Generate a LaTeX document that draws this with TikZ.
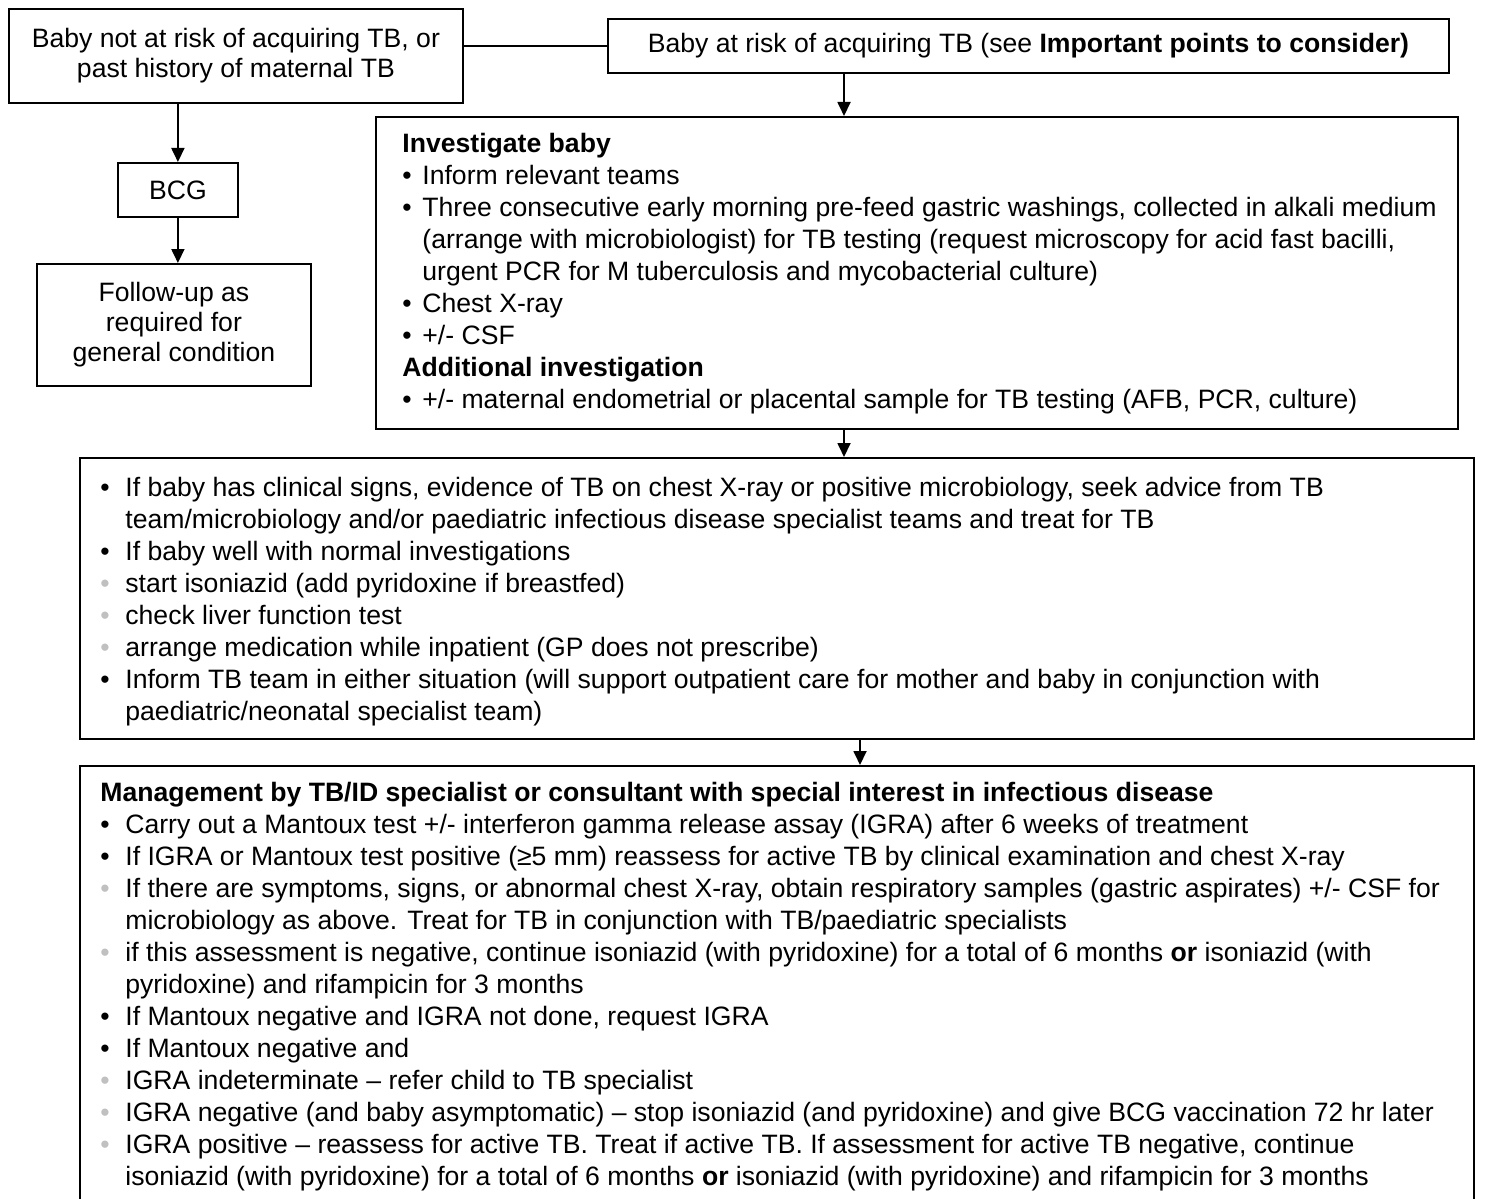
\documentclass[tikz,border=0pt]{standalone}
\usepackage{fontspec}
\setmainfont{Liberation Sans}
\usetikzlibrary{arrows.meta}
\definecolor{bgrey}{HTML}{C0C0C0}
\newlength{\bw}
\newcommand{\bb}{\makebox[\bw][l]{•}}
\newcommand{\gb}{\makebox[\bw][l]{\textcolor{bgrey}{•}}}
\newcommand{\ct}{\makebox[\bw][l]{}}
\tikzset{
  box/.style={draw, line width=0.9pt, rectangle, inner sep=0pt, anchor=north west},
  txt/.style={anchor=north west, inner sep=0pt, align=left},
  arr/.style={-{Triangle[length=7pt,width=6.5pt]}, line width=0.9pt},
  link/.style={line width=0.9pt},
  smallf/.style={font=\fontsize{13.3}{15}\selectfont},
  bodyf/.style={font={\setlength{\bw}{10pt}\fontsize{13.3}{16}\selectfont}},
  bodyg/.style={font={\setlength{\bw}{12.5pt}\fontsize{13.3}{16}\selectfont}}
}
\begin{document}
\begin{tikzpicture}[x=0.5pt,y=-0.5pt]
\useasboundingbox (0,0) rectangle (1491,1198);
% top boxes
\node[box, smallf, align=center, minimum width=227pt, minimum height=47pt] (A) at (8,8)
  {Baby not at risk of acquiring TB, or\\past history of maternal TB};
\node[box, smallf, align=center, minimum width=420.5pt, minimum height=27pt] (B) at (607,18)
  {Baby at risk of acquiring TB (see \textbf{Important points to consider)}};
\node[box, smallf, align=center, minimum width=60pt, minimum height=27pt] (BCG) at (117,162) {BCG};
\node[box, smallf, align=center, minimum width=137pt, minimum height=61pt] (FU) at (36,263)
  {Follow-up as\\required for\\general condition};
% investigate box
\node[box, minimum width=541pt, minimum height=156pt] (C) at (375,116) {};
\node[txt, bodyf] (Ct) at (402,129.6) {\strut\textbf{Investigate baby}\\
\bb Inform relevant teams\\
\bb Three consecutive early morning pre-feed gastric washings, collected in alkali medium\\
\ct (arrange with microbiologist) for TB testing (request microscopy for acid fast bacilli,\\
\ct urgent PCR for M tuberculosis and mycobacterial culture)\\
\bb Chest X-ray\\
\bb +/- CSF\\
\textbf{Additional investigation}\\
\bb +/- maternal endometrial or placental sample for TB testing (AFB, PCR, culture)};
% box D
\node[box, minimum width=697pt, minimum height=140.5pt] (D) at (79,457) {};
\node[txt, bodyg] (Dt) at (100,473.6) {\strut\bb If baby has clinical signs, evidence of TB on chest X-ray or positive microbiology, seek advice from TB\\
\ct team/microbiology and/or paediatric infectious disease specialist teams and treat for TB\\
\bb If baby well with normal investigations\\
\gb start isoniazid (add pyridoxine if breastfed)\\
\gb check liver function test\\
\gb arrange medication while inpatient (GP does not prescribe)\\
\bb Inform TB team in either situation (will support outpatient care for mother and baby in conjunction with\\
\ct paediatric/neonatal specialist team)};
% box E
\node[box, minimum width=697pt, minimum height=225pt] (E) at (79,765) {};
\node[txt, bodyg] (Et) at (100,778.6) {\strut\textbf{Management by TB/ID specialist or consultant with special interest in infectious disease}\\
\bb Carry out a Mantoux test +/- interferon gamma release assay (IGRA) after 6 weeks of treatment\\
\bb If IGRA or Mantoux test positive (≥5 mm) reassess for active TB by clinical examination and chest X-ray\\
\gb If there are symptoms, signs, or abnormal chest X-ray, obtain respiratory samples (gastric aspirates) +/- CSF for\\
\ct microbiology as above. Treat for TB in conjunction with TB/paediatric specialists\\
\gb if this assessment is negative, continue isoniazid (with pyridoxine) for a total of 6 months \textbf{or} isoniazid (with\\
\ct pyridoxine) and rifampicin for 3 months\\
\bb If Mantoux negative and IGRA not done, request IGRA\\
\bb If Mantoux negative and\\
\gb IGRA indeterminate – refer child to TB specialist\\
\gb IGRA negative (and baby asymptomatic) – stop isoniazid (and pyridoxine) and give BCG vaccination 72 hr later\\
\gb IGRA positive – reassess for active TB. Treat if active TB. If assessment for active TB negative, continue\\
\ct isoniazid (with pyridoxine) for a total of 6 months \textbf{or} isoniazid (with pyridoxine) and rifampicin for 3 months};
% connectors
\coordinate (xbc) at (844,0);
\coordinate (xde) at (860,0);
\draw[link] (B.west -| A.east) -- (B.west);
\draw[arr] (A.south -| BCG.north) -- (BCG.north);
\draw[arr] (BCG.south) -- (BCG.south |- FU.north);
\draw[arr] (B.south -| xbc) -- (C.north -| xbc);
\draw[arr] (C.south -| xbc) -- (D.north -| xbc);
\draw[arr] (D.south -| xde) -- (E.north -| xde);
\end{tikzpicture}
\end{document}
